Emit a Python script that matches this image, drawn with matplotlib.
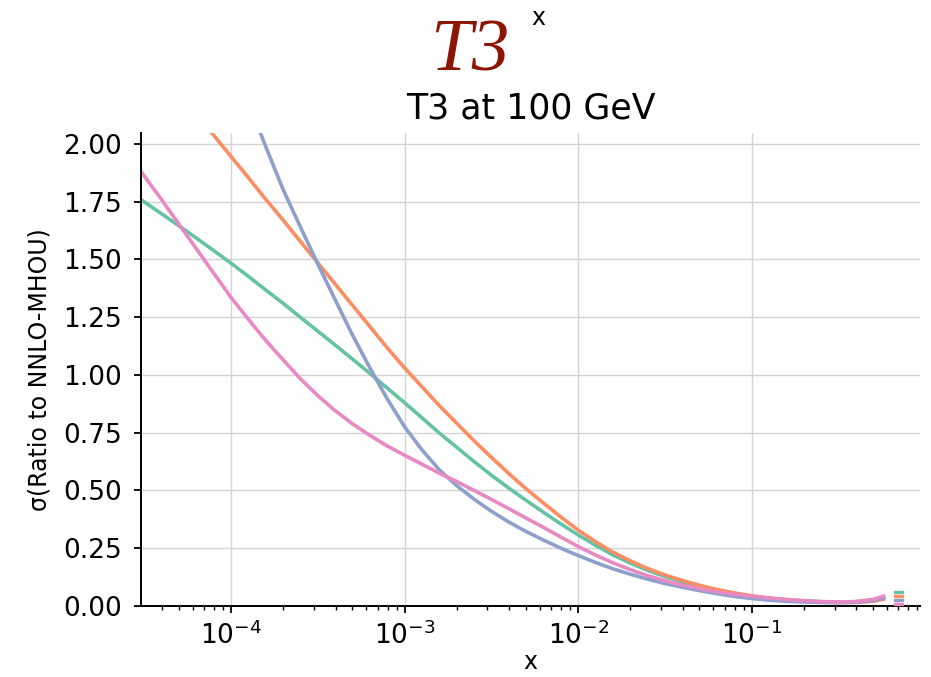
import matplotlib
matplotlib.use('Agg')
import matplotlib.pyplot as plt
import matplotlib.patches as mpatches

# ── Estilo ─────────────────────────────────────────────────────────────────────
plt.rcParams.update({
    'font.family':       'DejaVu Sans',
    'font.size':         17,
    'axes.titlesize':    25,
    'axes.labelsize':    17,
    'xtick.labelsize':   19,
    'ytick.labelsize':   19,
    'axes.spines.top':   False,
    'axes.spines.right': False,
})

# ── Datos ──────────────────────────────────────────────────────────────────────
X_GRID = [3.0e-5, 3.98e-5, 5.01e-5, 6.31e-5, 7.94e-5,
          1.0e-4, 1.26e-4, 1.58e-4, 2.0e-4, 2.51e-4, 3.16e-4, 3.98e-4, 5.01e-4, 6.31e-4, 7.94e-4,
          1.0e-3, 1.26e-3, 1.58e-3, 2.0e-3, 2.51e-3, 3.16e-3, 3.98e-3, 5.01e-3, 6.31e-3, 7.94e-3,
          1.0e-2, 1.26e-2, 1.58e-2, 2.0e-2, 2.51e-2, 3.16e-2, 3.98e-2, 5.01e-2, 6.31e-2, 7.94e-2,
          0.1, 0.126, 0.158, 0.2, 0.251, 0.316, 0.398, 0.501, 0.575]

Y_GREEN = [1.76, 1.697, 1.645, 1.592, 1.538,
           1.483, 1.426, 1.368, 1.309, 1.249, 1.189, 1.129, 1.068, 1.006, 0.943,
           0.879, 0.814, 0.749, 0.686, 0.625, 0.566, 0.51, 0.457, 0.405, 0.355,
           0.307, 0.262, 0.221, 0.185, 0.154, 0.127, 0.104, 0.084, 0.067, 0.053,
           0.042, 0.033, 0.026, 0.021, 0.018, 0.016, 0.018, 0.026, 0.036]

# naranja y azul salen por arriba: empiezan más tarde en la malla
Y_ORANGE = [2.129, 2.037,
            1.945, 1.853, 1.761, 1.669, 1.577, 1.485, 1.393, 1.301, 1.209, 1.117,
            1.03, 0.948, 0.868, 0.79, 0.715, 0.643, 0.573, 0.507, 0.445, 0.385,
            0.328, 0.278, 0.233, 0.195, 0.162, 0.134, 0.11, 0.089, 0.071, 0.056,
            0.044, 0.034, 0.027, 0.021, 0.017, 0.015, 0.015, 0.02, 0.029]

Y_BLUE = [2.18, 1.99, 1.80, 1.64, 1.48, 1.325, 1.172, 1.03, 0.896,
          0.775, 0.675, 0.59, 0.52, 0.462, 0.41, 0.363, 0.322, 0.285, 0.25,
          0.218, 0.188, 0.161, 0.137, 0.116, 0.097, 0.081, 0.066, 0.053, 0.041,
          0.032, 0.025, 0.02, 0.017, 0.015, 0.014, 0.016, 0.023, 0.034]

Y_PINK = [1.884, 1.758, 1.652, 1.546, 1.44,
          1.335, 1.24, 1.15, 1.064, 0.983, 0.91, 0.845, 0.788, 0.738, 0.692,
          0.652, 0.613, 0.575, 0.538, 0.50, 0.461, 0.421, 0.38, 0.34, 0.298,
          0.257, 0.22, 0.187, 0.157, 0.131, 0.109, 0.09, 0.074, 0.061, 0.05,
          0.042, 0.034, 0.028, 0.023, 0.019, 0.017, 0.019, 0.028, 0.042]

SERIES = [
    (X_GRID,     Y_GREEN,  "#66c2a5"),
    (X_GRID[3:], Y_ORANGE, "#fc8d62"),
    (X_GRID[6:], Y_BLUE,   "#8da0cb"),
    (X_GRID,     Y_PINK,   "#e78ac3"),
]
Y_TICKS = [0.0, 0.25, 0.5, 0.75, 1.0, 1.25, 1.5, 1.75, 2.0]


def main():
    fig = plt.figure(figsize=(9.31, 6.77), dpi=100)
    ax = fig.add_axes([0.1515, 0.105, 0.8365, 0.699])

    for xs, ys, col in SERIES:
        ax.plot(xs, ys, color=col, linewidth=2.6, solid_joinstyle='round')

    ax.set_xscale('log')
    ax.set_xlim(3.03e-5, 0.93)
    ax.set_ylim(0, 2.048)
    ax.set_yticks(Y_TICKS)
    ax.set_yticklabels([f"{v:.2f}" for v in Y_TICKS])

    ax.grid(True, which='major', color='#d3d3d3', linewidth=1.0)
    ax.set_axisbelow(True)
    for side in ('left', 'bottom'):
        ax.spines[side].set_linewidth(1.4)
        ax.spines[side].set_color('black')
    ax.tick_params(which='major', direction='out', length=5, width=1.3)
    ax.tick_params(which='minor', direction='out', length=3, width=1.0)
    ax.tick_params(axis='y', pad=9)
    ax.tick_params(axis='x', which='major', pad=6)

    ax.set_xlabel("x", labelpad=0)
    ax.set_ylabel("σ(Ratio to NNLO-MHOU)", labelpad=8)
    ax.set_title("T3 at 100 GeV", pad=10)

    # Leyenda sin texto (cuadritos de color)
    handles = [mpatches.Patch(color=col) for _, _, col in SERIES]
    ax.legend(handles=handles, labels=[""] * 4, loc='lower right',
              bbox_to_anchor=(0.978, 0.0), fontsize=2, frameon=False,
              handlelength=3.2, handleheight=1.15, labelspacing=0,
              handletextpad=0, borderpad=0, borderaxespad=0)

    fig.text(0.505, 0.896, "T3", fontsize=54, color='#8c1505',
             family='Liberation Serif', style='italic', ha='center', va='baseline')
    fig.text(0.578, 0.973, "x", fontsize=17, ha='center', va='center')

    fig.savefig("out.png", dpi=100)
    plt.close(fig)


if __name__ == "__main__":
    main()
